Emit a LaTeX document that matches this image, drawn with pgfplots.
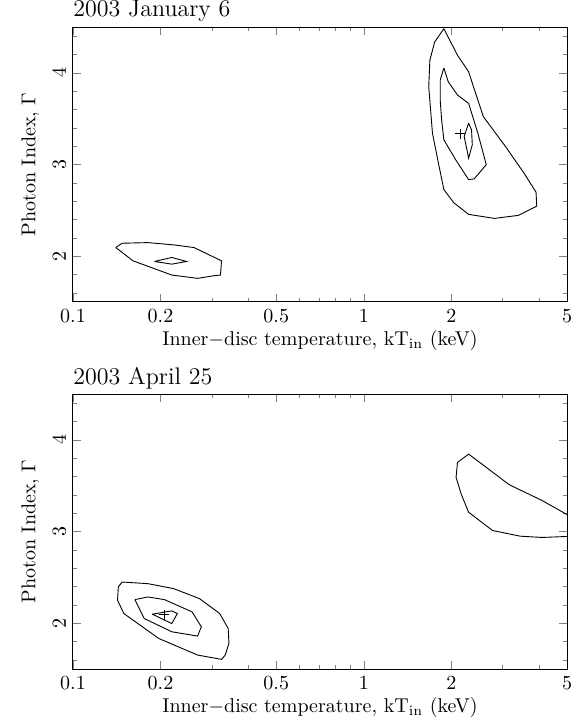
\documentclass[border=0pt]{standalone}
\usepackage{pgfplots}
\pgfplotsset{compat=1.18}
\begin{document}
\begin{tikzpicture}
\useasboundingbox (-36.5pt,-25pt) rectangle (253.5pt,334.5pt);
% Top panel
\begin{axis}[
  name=toppanel,
  at={(0,183.5pt)}, anchor=south west,
  xmode=log, scale only axis, width=247pt, height=137.5pt,
  xmin=0.1, xmax=5, ymin=1.5, ymax=4.5,
  xtick={0.1,0.2,0.5,1,2,5}, xticklabels={0.1,0.2,0.5,1,2,5},
  minor xtick={0.3,0.4,0.6,0.7,0.8,0.9,3,4},
  ytick={2,3,4}, minor ytick={1.6,1.8,2.2,2.4,2.6,2.8,3.2,3.4,3.6,3.8,4.2,4.4},
  yticklabel style={rotate=90},
  major tick length=4pt, minor tick length=2pt,
  xlabel={Inner$-$disc temperature, kT$_{\mathrm{in}}$ (keV)},
  xlabel style={yshift=3pt},
  ylabel={Photon Index, $\Gamma$},
  axis line style={line width=0.5pt},
]
\addplot[black, line width=0.45pt, mark=none] coordinates {(1.886,4.481) (1.753,4.336) (1.688,4.137) (1.673,3.848) (1.723,3.342) (1.816,2.98) (1.886,2.727) (2.041,2.582) (2.294,2.456) (2.813,2.412) (3.401,2.445) (3.936,2.546) (3.913,2.698) (3.554,2.908) (3.071,3.197) (2.577,3.523) (2.294,4.011) (2.101,4.192) (1.886,4.481)};
\addplot[black, line width=0.45pt, mark=none] coordinates {(1.886,4.054) (1.832,3.920) (1.832,3.703) (1.853,3.486) (1.886,3.269) (2.071,3.052) (2.294,2.835) (2.397,2.843) (2.638,2.998) (2.468,3.342) (2.294,3.667) (2.101,3.758) (1.953,3.902) (1.886,4.054)};
\addplot[black, line width=0.45pt, mark=none] coordinates {(2.294,3.450) (2.215,3.306) (2.294,3.07) (2.362,3.215) (2.348,3.378) (2.294,3.450)};
\addplot[black, line width=0.45pt, mark=none] coordinates {(0.1403,2.094) (0.1475,2.141) (0.1809,2.148) (0.2219,2.123) (0.2606,2.094) (0.3243,1.949) (0.3215,1.794) (0.3059,1.787) (0.2683,1.758) (0.2187,1.794) (0.1609,1.949) (0.1403,2.094)};
\addplot[black, line width=0.45pt, mark=none] coordinates {(0.1906,1.942) (0.2187,1.986) (0.2458,1.942) (0.2187,1.913) (0.1906,1.942)};
\addplot[black, mark=+, only marks, mark size=2.5pt, mark options={line width=0.45pt}] coordinates {(2.15,3.335)};
\end{axis}
\node[anchor=base west, inner sep=0pt, font=\large] at ([yshift=5pt]toppanel.north west) {2003 January 6};
% Bottom panel
\begin{axis}[
  name=botpanel,
  at={(0,0)}, anchor=south west,
  xmode=log, scale only axis, width=247pt, height=137.5pt,
  xmin=0.1, xmax=5, ymin=1.5, ymax=4.5,
  xtick={0.1,0.2,0.5,1,2,5}, xticklabels={0.1,0.2,0.5,1,2,5},
  minor xtick={0.3,0.4,0.6,0.7,0.8,0.9,3,4},
  ytick={2,3,4}, minor ytick={1.6,1.8,2.2,2.4,2.6,2.8,3.2,3.4,3.6,3.8,4.2,4.4},
  yticklabel style={rotate=90},
  major tick length=4pt, minor tick length=2pt,
  xlabel={Inner$-$disc temperature, kT$_{\mathrm{in}}$ (keV)},
  xlabel style={yshift=3pt},
  ylabel={Photon Index, $\Gamma$},
  axis line style={line width=0.5pt},
]
\addplot[black, line width=0.45pt, mark=none] coordinates {(5.0,3.185) (4.11,3.337) (3.162,3.511) (2.733,3.663) (2.503,3.754) (2.294,3.844) (2.101,3.754) (2.077,3.591) (2.163,3.409) (2.294,3.21) (2.773,3.011) (3.451,2.949) (4.11,2.935) (5.0,2.946)};
\addplot[black, line width=0.45pt, mark=none] coordinates {(0.1475,2.449) (0.1809,2.431) (0.2219,2.377) (0.2722,2.268) (0.3196,2.105) (0.3418,1.942) (0.3438,1.779) (0.3339,1.652) (0.3243,1.605) (0.2683,1.652) (0.1973,1.833) (0.1496,2.105) (0.1423,2.25) (0.1432,2.395) (0.1475,2.449)};
\addplot[black, line width=0.45pt, mark=none] coordinates {(0.1633,2.257) (0.1809,2.286) (0.2063,2.257) (0.2568,2.123) (0.2763,1.96) (0.2683,1.859) (0.2187,1.906) (0.1757,2.051) (0.1633,2.257)};
\addplot[black, line width=0.45pt, mark=none] coordinates {(0.1873,2.098) (0.2187,2.134) (0.2285,2.105) (0.2187,1.996) (0.1873,2.098)};
\addplot[black, mark=+, only marks, mark size=2.5pt, mark options={line width=0.45pt}] coordinates {(0.2063,2.094)};
\end{axis}
\node[anchor=base west, inner sep=0pt, font=\large] at ([yshift=5pt]botpanel.north west) {2003 April 25};
\end{tikzpicture}
\end{document}
